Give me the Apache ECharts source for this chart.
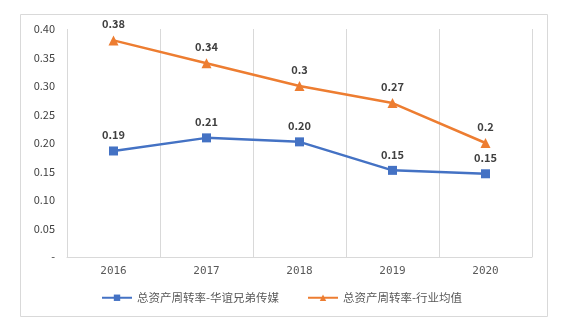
<!DOCTYPE html>
<html><head><meta charset="utf-8">
<script src="https://cdn.jsdelivr.net/npm/echarts@6/dist/echarts.min.js"></script>
<style>html,body{margin:0;padding:0;background:#fff}#c{width:563px;height:333px}</style>
</head><body><div id="c"></div>
<script>
var categories = ['2016','2017','2018','2019','2020'];
var companyName = '总资产周转率-华谊兄弟传媒';
var industryName = '总资产周转率-行业均值';
var companyValues = [0.186, 0.209, 0.202, 0.152, 0.146];
var industryValues = [0.38, 0.34, 0.30, 0.27, 0.20];

var chart = echarts.init(document.getElementById('c'));
var fontFam = '"Noto Sans CJK SC", "DejaVu Sans", sans-serif';
chart.setOption({
  animation: false,
  textStyle: {fontFamily: fontFam},
  graphic: [{type:'rect', shape:{x:20.5,y:14.5,width:527,height:302}, style:{fill:'none', stroke:'#d9d9d9', lineWidth:1}, z:-1}],
  grid: {left: 67, right: 31, top: 29, bottom: 76},
  legend: {
    top: 287, left: 'center', itemWidth: 30, itemHeight: 8, itemGap: 28,
    textStyle: {fontSize: 11.5, color: '#595959', fontFamily: fontFam},
    data: [companyName, industryName]
  },
  xAxis: {
    type: 'category', data: categories, boundaryGap: true,
    axisLine: {lineStyle: {color: '#d9d9d9'}},
    axisTick: {show: false},
    splitLine: {show: true, interval: 0, lineStyle: {color: '#d9d9d9'}},
    axisLabel: {color: '#595959', fontSize: 11, margin: 9, fontFamily: 'DejaVu Sans Mono, monospace'}
  },
  yAxis: {
    type: 'value', min: 0, max: 0.4, interval: 0.05,
    axisLine: {show: false}, axisTick: {show: false}, splitLine: {show: false},
    axisLabel: {color: '#404040', fontSize: 11, margin: 12,
      formatter: function(v){ return v === 0 ? '-' : v.toFixed(2); }}
  },
  series: [
    {name: companyName, type: 'line', data: companyValues,
     symbol: 'rect', symbolSize: 9, color: '#4472C4',
     lineStyle: {width: 2.5, color: '#4472C4'}, itemStyle: {color: '#4472C4'},
     label: {show: true, position: 'top', distance: 6, color: '#404040', fontSize: 11, fontWeight: 'bold',
       formatter: function(p){ return p.value.toFixed(2); }}},
    {name: industryName, type: 'line', data: industryValues,
     symbol: 'triangle', symbolSize: 10, color: '#ED7D31',
     lineStyle: {width: 2.5, color: '#ED7D31'}, itemStyle: {color: '#ED7D31'},
     label: {show: true, position: 'top', distance: 6, color: '#404040', fontSize: 11, fontWeight: 'bold',
       formatter: function(p){ return String(p.value); }}}
  ]
});
</script></body></html>
